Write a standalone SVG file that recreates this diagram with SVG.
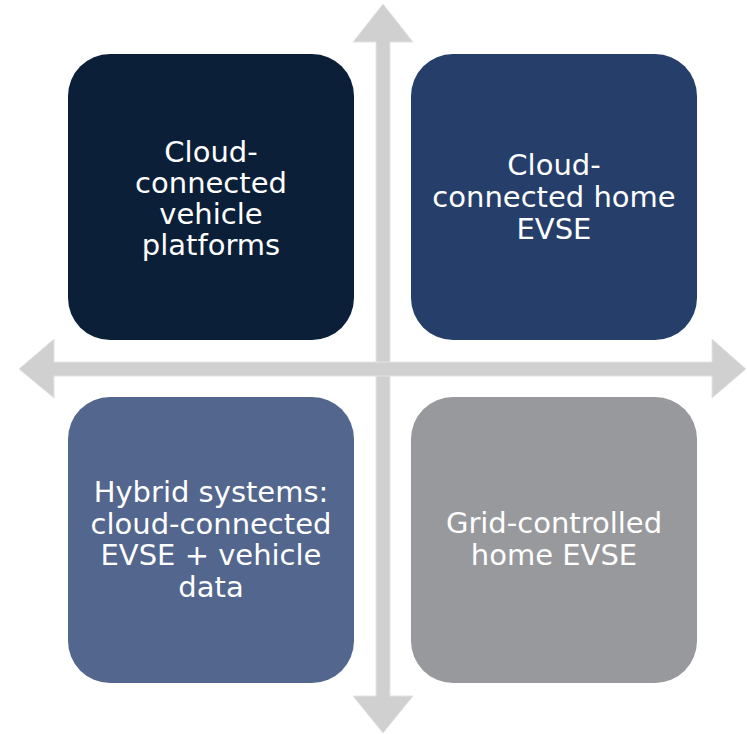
<svg xmlns="http://www.w3.org/2000/svg" width="747" height="734" viewBox="0 0 747 734">
  <style>
    .box { stroke: none; }
    .lbl { font-family: "DejaVu Sans", Verdana, sans-serif; font-size: 29px; fill: #FFFFFF; text-anchor: middle; }
    .axis { fill: #D0D0D0; stroke: #E4E4E4; stroke-width: 1; }
  </style>
  <rect width="747" height="734" fill="#FFFFFF"/>
  <g id="connectors">
    <polygon class="axis" points="383,4 413,42 390,42 390,696 413,696 383,733 353,696 376,696 376,42 353,42"/>
    <polygon class="axis" points="19,369 54,339 54,362 712,362 712,339 746,369 712,398 712,376 54,376 54,398"/>
  </g>
  <g id="node-cloud-vehicle">
    <rect class="box" x="68" y="54" width="286" height="286" rx="42" ry="42" fill="#0C1F38"/>
    <text class="lbl" x="211" y="162">Cloud-</text>
    <text class="lbl" x="211" y="193">connected</text>
    <text class="lbl" x="211" y="224">vehicle</text>
    <text class="lbl" x="211" y="255">platforms</text>
  </g>
  <g id="node-cloud-evse">
    <rect class="box" x="411" y="54" width="286" height="286" rx="42" ry="42" fill="#263F6A"/>
    <text class="lbl" x="554" y="175">Cloud-</text>
    <text class="lbl" x="554" y="207">connected home</text>
    <text class="lbl" x="554" y="239">EVSE</text>
  </g>
  <g id="node-hybrid">
    <rect class="box" x="68" y="397" width="286" height="286" rx="42" ry="42" fill="#53668D"/>
    <text class="lbl" x="211" y="502">Hybrid systems:</text>
    <text class="lbl" x="211" y="534">cloud-connected</text>
    <text class="lbl" x="211" y="565">EVSE + vehicle</text>
    <text class="lbl" x="211" y="597">data</text>
  </g>
  <g id="node-grid">
    <rect class="box" x="411" y="397" width="286" height="286" rx="42" ry="42" fill="#98999D"/>
    <text class="lbl" x="554" y="533">Grid-controlled</text>
    <text class="lbl" x="554" y="565">home EVSE</text>
  </g>
</svg>
